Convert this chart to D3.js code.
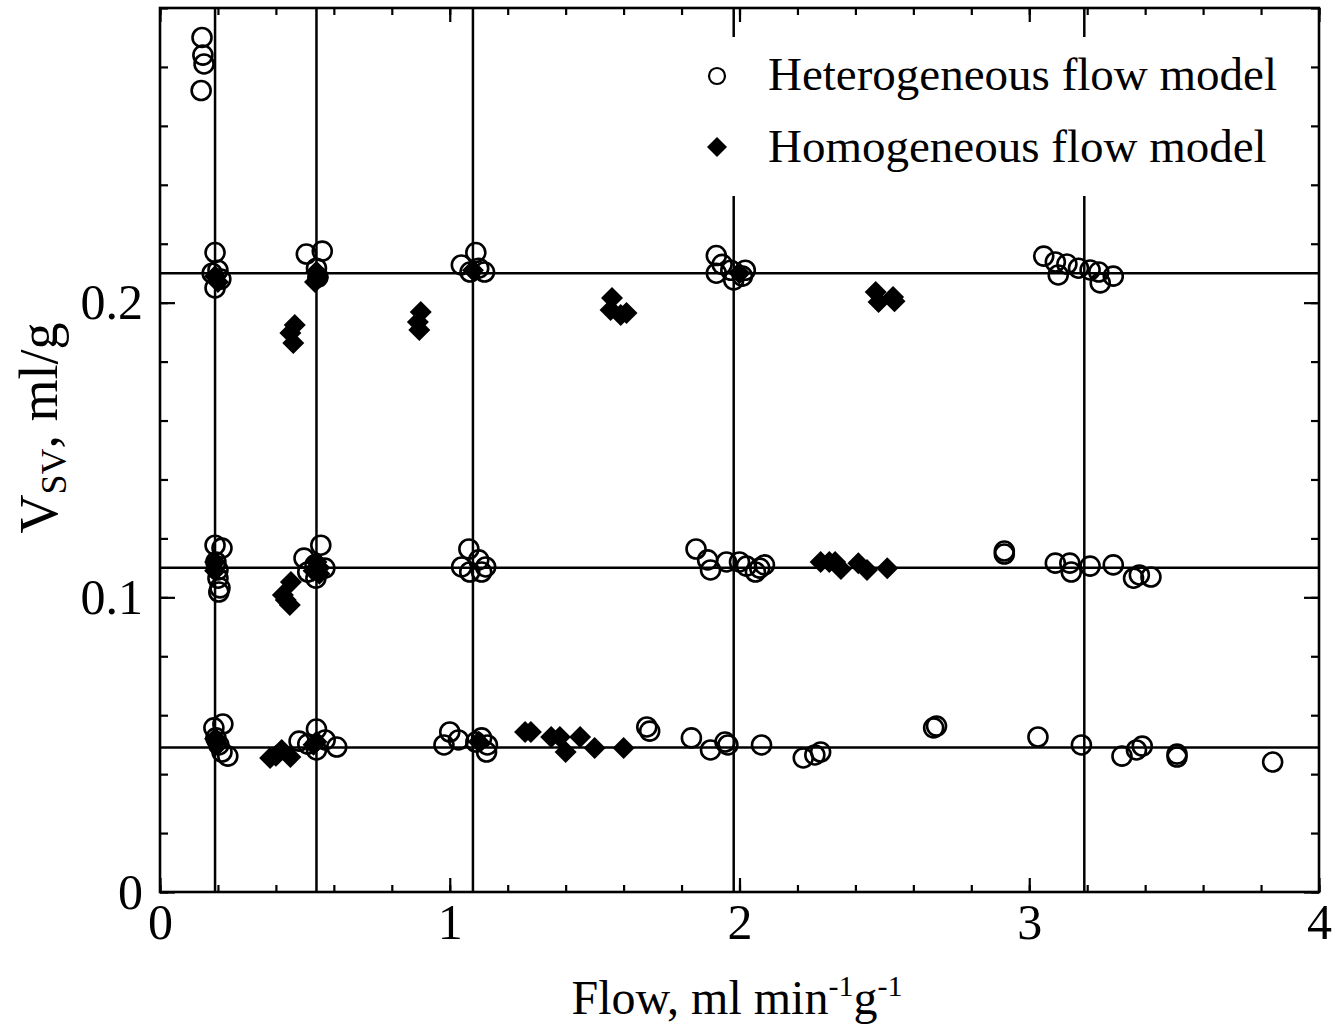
<!DOCTYPE html>
<html>
<head>
<meta charset="utf-8">
<script src="https://cdn.jsdelivr.net/npm/d3@7"></script>
<style>
  body { margin: 0; background: #fff; }
  svg text { font-family: "Liberation Serif", "DejaVu Serif", serif; fill: #000; }
</style>
</head>
<body>
<svg id="chart" width="1342" height="1025"></svg>
<script>
// values: [flow, Vsv]
const heterogeneous = [
  [0.145, 0.290], [0.148, 0.284], [0.152, 0.281], [0.142, 0.272],
  [0.19, 0.217], [0.20, 0.211], [0.21, 0.208], [0.19, 0.205], [0.18, 0.210],
  [0.505, 0.2165], [0.56, 0.2175], [0.54, 0.2117], [0.545, 0.2087],
  [1.09, 0.217], [1.04, 0.2128], [1.10, 0.2117], [1.07, 0.2104], [1.12, 0.2104],
  [1.92, 0.216], [1.94, 0.213], [1.92, 0.210], [1.97, 0.211], [1.98, 0.2077], [2.02, 0.211], [2.01, 0.209],
  [3.05, 0.2158], [3.09, 0.2138], [3.10, 0.2094], [3.13, 0.2131], [3.17, 0.2117], [3.21, 0.2111],
  [3.24, 0.2104], [3.245, 0.2067], [3.29, 0.2090],
  [0.19, 0.1177], [0.214, 0.1167], [0.193, 0.112], [0.20, 0.1093], [0.20, 0.1065], [0.207, 0.1032], [0.203, 0.1018],
  [0.555, 0.1177], [0.497, 0.1133], [0.535, 0.111], [0.569, 0.1099], [0.538, 0.1065], [0.51, 0.1086],
  [1.066, 0.1164], [1.041, 0.1103], [1.10, 0.1127], [1.124, 0.1103], [1.069, 0.1086], [1.11, 0.1086],
  [1.85, 0.1164], [1.89, 0.1127], [1.90, 0.1093], [1.955, 0.112], [2.0, 0.112], [2.024, 0.1106],
  [2.055, 0.1086], [2.07, 0.1099], [2.086, 0.111],
  [2.914, 0.1157], [2.914, 0.1147], [3.09, 0.1116], [3.14, 0.1116], [3.145, 0.1086], [3.21, 0.1106],
  [3.29, 0.111], [3.36, 0.1065], [3.38, 0.1076], [3.42, 0.1069],
  [0.186, 0.0557], [0.217, 0.057], [0.193, 0.0523], [0.203, 0.0499], [0.214, 0.0475], [0.234, 0.0461],
  [0.48, 0.0512], [0.54, 0.0553], [0.51, 0.0502], [0.57, 0.0516], [0.61, 0.0492], [0.54, 0.0482],
  [0.98, 0.0499], [1.0, 0.0543], [1.03, 0.0516], [1.09, 0.0509], [1.11, 0.0523], [1.13, 0.0499], [1.127, 0.0475],
  [1.68, 0.056], [1.69, 0.0546],
  [1.834, 0.0523], [1.90, 0.0482], [1.95, 0.0509], [1.96, 0.0499], [2.076, 0.0499],
  [2.22, 0.0455], [2.26, 0.0465], [2.28, 0.0475],
  [2.67, 0.0557], [2.68, 0.0563],
  [3.03, 0.0526], [3.18, 0.0499], [3.32, 0.0461], [3.37, 0.0482], [3.39, 0.0495],
  [3.51, 0.0468], [3.51, 0.0458], [3.84, 0.0441]
]

const homogeneous = [
  [0.19, 0.209], [0.20, 0.207], [0.54, 0.2105], [0.545, 0.2085], [0.535, 0.207],
  [1.08, 0.211], [2.0, 0.210],
  [0.465, 0.1924], [0.45, 0.1897], [0.46, 0.1863],
  [0.90, 0.1968], [0.89, 0.1934], [0.895, 0.1907],
  [1.56, 0.2016], [1.555, 0.1975], [1.59, 0.1958], [1.61, 0.1965],
  [2.47, 0.2036], [2.48, 0.2002], [2.53, 0.2019], [2.535, 0.2005],
  [0.19, 0.112], [0.19, 0.109], [0.54, 0.112], [0.55, 0.110], [0.53, 0.109], [0.55, 0.108],
  [0.452, 0.1052], [0.424, 0.1008], [0.434, 0.0991], [0.448, 0.0974],
  [2.28, 0.112], [2.31, 0.112], [2.33, 0.112], [2.35, 0.1096], [2.41, 0.1116], [2.44, 0.1093], [2.51, 0.1099],
  [0.19, 0.052], [0.20, 0.050], [0.54, 0.051], [0.53, 0.050], [1.10, 0.051],
  [0.38, 0.0455], [0.42, 0.0482], [0.45, 0.0458], [0.40, 0.0462],
  [1.26, 0.0543], [1.28, 0.0543], [1.35, 0.0526], [1.38, 0.0526], [1.40, 0.0475],
  [1.45, 0.0526], [1.50, 0.0489], [1.60, 0.0489]
]

// reference lines (flows used, true volumes)
const refFlows = [0.19, 0.54, 1.08, 1.98, 3.19]
const refVolumes = [0.21, 0.11, 0.049]

const xMajor = [0, 1, 2, 3, 4]
const xMinor = d3.range(0, 4.01, 0.2)
const yMajor = [0, 0.1, 0.2]
const yMinor = d3.range(0, 0.301, 0.02)

const legendLabels = ["Heterogeneous flow model", "Homogeneous flow model"]

const plot = { left: 160, right: 1319, top: 8, bottom: 892 }

const svg = d3.select("#chart")

const x = d3.scaleLinear().domain([0, 4]).range([plot.left, plot.right])
const y = d3.scaleLinear().domain([0, 0.3]).range([plot.bottom, plot.top])

// reference grid
svg.append("g").selectAll("line")
  .data(refFlows).enter().append("line")
  .attr("x1", d => x(d)).attr("x2", d => x(d))
  .attr("y1", plot.top).attr("y2", plot.bottom)
  .attr("stroke", "#000").attr("stroke-width", 2.5)

svg.append("g").selectAll("line")
  .data(refVolumes).enter().append("line")
  .attr("x1", plot.left).attr("x2", plot.right)
  .attr("y1", d => y(d)).attr("y2", d => y(d))
  .attr("stroke", "#000").attr("stroke-width", 2.5)

// legend box hides the lines behind it
svg.append("rect")
  .attr("x", 690).attr("y", 37)
  .attr("width", 620).attr("height", 159)
  .attr("fill", "#fff")

const diamond = (cx, cy, r) =>
  `M${cx},${cy - r}L${cx + r},${cy}L${cx},${cy + r}L${cx - r},${cy}Z`

svg.append("g").selectAll("path")
  .data(homogeneous).enter().append("path")
  .attr("d", d => diamond(x(d[0]), y(d[1]), 11))
  .attr("fill", "#000")

svg.append("g").selectAll("circle")
  .data(heterogeneous).enter().append("circle")
  .attr("cx", d => x(d[0])).attr("cy", d => y(d[1]))
  .attr("r", 9.5)
  .attr("fill", "none").attr("stroke", "#000").attr("stroke-width", 2.6)

// axes, ticks inward on all four sides
function styleAxis(g) {
  g.select(".domain").remove()
  g.selectAll(".tick line").attr("stroke", "#000").attr("stroke-width", 2.2)
  g.selectAll(".tick text").attr("font-size", 50).attr("font-family", "Liberation Serif")
}

svg.append("g").attr("transform", `translate(0,${plot.bottom})`)
  .call(d3.axisBottom(x).tickValues(xMinor).tickSize(-7).tickFormat(""))
  .call(styleAxis)
svg.append("g").attr("transform", `translate(0,${plot.bottom})`)
  .call(d3.axisBottom(x).tickValues(xMajor).tickSize(-14).tickPadding(11).tickFormat(d3.format("d")))
  .call(styleAxis)
svg.append("g").attr("transform", `translate(0,${plot.top})`)
  .call(d3.axisTop(x).tickValues(xMinor).tickSize(-7).tickFormat(""))
  .call(styleAxis)
svg.append("g").attr("transform", `translate(0,${plot.top})`)
  .call(d3.axisTop(x).tickValues(xMajor).tickSize(-14).tickFormat(""))
  .call(styleAxis)

svg.append("g").attr("transform", `translate(${plot.left},0)`)
  .call(d3.axisLeft(y).tickValues(yMinor).tickSize(-8).tickFormat(""))
  .call(styleAxis)
svg.append("g").attr("transform", `translate(${plot.left},0)`)
  .call(d3.axisLeft(y).tickValues(yMajor).tickSize(-15).tickPadding(17).tickFormat(d => d === 0 ? "0" : d3.format(".1f")(d)))
  .call(styleAxis)
svg.append("g").attr("transform", `translate(${plot.right},0)`)
  .call(d3.axisRight(y).tickValues(yMinor).tickSize(-8).tickFormat(""))
  .call(styleAxis)
svg.append("g").attr("transform", `translate(${plot.right},0)`)
  .call(d3.axisRight(y).tickValues(yMajor).tickSize(-15).tickFormat(""))
  .call(styleAxis)

// frame
svg.append("rect")
  .attr("x", plot.left).attr("y", plot.top)
  .attr("width", plot.right - plot.left).attr("height", plot.bottom - plot.top)
  .attr("fill", "none").attr("stroke", "#000").attr("stroke-width", 2.6)

// legend
const legend = svg.append("g")
legend.append("circle")
  .attr("cx", 717).attr("cy", 76).attr("r", 8)
  .attr("fill", "none").attr("stroke", "#000").attr("stroke-width", 2.2)
legend.append("path")
  .attr("d", diamond(717, 147, 10))
  .attr("fill", "#000")
legend.selectAll("text")
  .data(legendLabels).enter().append("text")
  .attr("x", 768).attr("y", (d, i) => 90 + i * 72)
  .attr("font-size", 47)
  .text(d => d)

// axis titles
const xTitle = svg.append("text")
  .attr("x", 737).attr("y", 1014)
  .attr("text-anchor", "middle").attr("font-size", 48)
xTitle.append("tspan").text("Flow, ml min")
xTitle.append("tspan").attr("font-size", 30).attr("dy", -18).text("-1")
xTitle.append("tspan").attr("dy", 18).text("g")
xTitle.append("tspan").attr("font-size", 30).attr("dy", -18).text("-1")

const yTitle = svg.append("text")
  .attr("transform", "translate(57,428) rotate(-90)")
  .attr("text-anchor", "middle").attr("font-size", 54)
yTitle.append("tspan").text("V")
yTitle.append("tspan").attr("font-size", 36).attr("dy", 9).text("SV")
yTitle.append("tspan").attr("dy", -9).text(", ml/g")
</script>
</body>
</html>
